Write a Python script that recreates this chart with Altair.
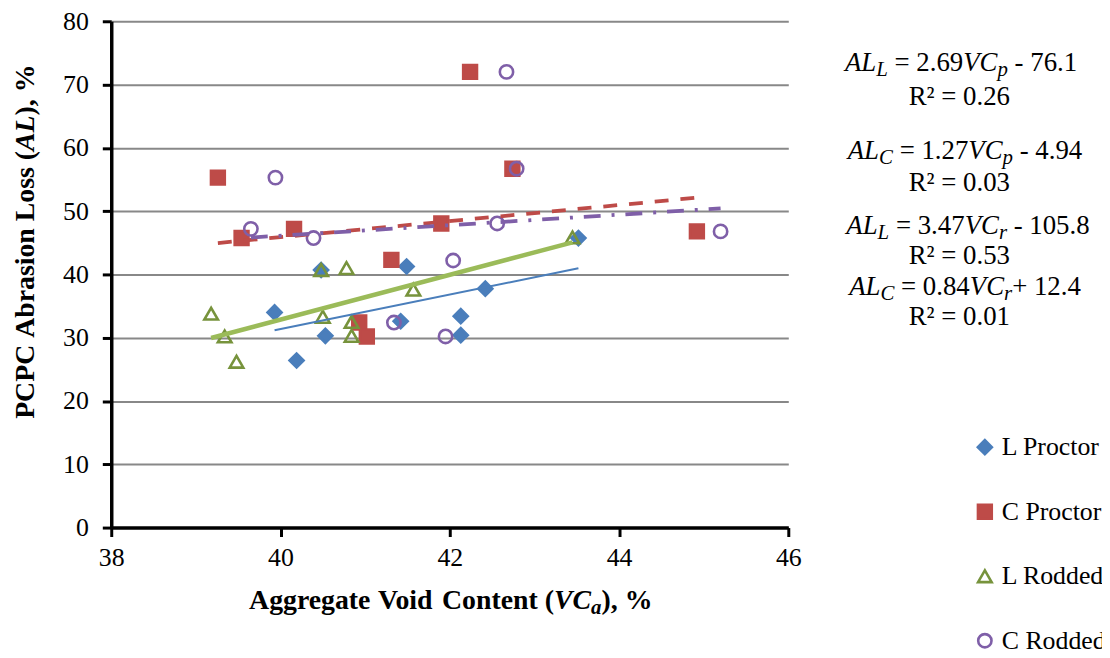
import altair as alt
import pandas as pd

# ---------------- data ----------------
series_names = ["L Proctor", "C Proctor", "L Rodded", "C Rodded"]

lp_x = [39.93, 40.19, 40.53, 40.48, 41.49, 41.42, 42.13, 42.13, 42.42, 43.52]
lp_y = [34.0, 26.4, 30.3, 40.7, 41.25, 32.6, 33.4, 30.4, 37.75, 45.75]

cp_x = [39.26, 39.54, 40.16, 41.31, 41.90, 40.93, 41.02, 42.24, 42.74, 44.92]
cp_y = [55.3, 45.75, 47.2, 42.3, 48.05, 32.4, 30.2, 72.0, 56.7, 46.8]

lr_x = [39.18, 39.34, 39.48, 40.48, 40.78, 40.50, 40.84, 40.84, 41.57, 43.45]
lr_y = [33.8, 30.2, 26.2, 40.7, 41.0, 33.3, 32.5, 30.3, 37.6, 45.85]

cr_x = [39.94, 39.65, 40.39, 41.34, 41.95, 42.04, 42.56, 42.67, 42.79, 45.20]
cr_y = [55.3, 47.2, 45.75, 32.4, 30.2, 42.2, 48.05, 72.0, 56.7, 46.8]

x_ticks = [38, 40, 42, 44, 46]
y_ticks = [0, 10, 20, 30, 40, 50, 60, 70, 80]

# rich-text pieces: (text, style); n normal, i italic, s italic subscript,
# b bold, bi bold italic, bs bold italic subscript
eq_lines = [
    [("AL", "i"), ("L", "s"), (" = 2.69", "n"), ("VC", "i"), ("p", "s"), (" - 76.1", "n")],
    [("AL", "i"), ("C", "s"), (" = 1.27", "n"), ("VC", "i"), ("p", "s"), (" - 4.94", "n")],
    [("AL", "i"), ("L", "s"), (" = 3.47", "n"), ("VC", "i"), ("r", "s"), (" - 105.8", "n")],
    [("AL", "i"), ("C", "s"), (" = 0.84", "n"), ("VC", "i"), ("r", "s"), ("+ 12.4", "n")],
]
r2_lines = ["R² = 0.26", "R² = 0.03", "R² = 0.53", "R² = 0.01"]
x_title = [("Aggregate Void Content (", "b"), ("VC", "bi"), ("a", "bs"), ("), %", "b")]
y_title = [("PCPC Abrasion Loss (", "b"), ("AL", "bi"), ("), %", "b")]

# ---------------- layout / style ----------------
FONT = "Liberation Serif"
BLUE, RED, GREEN_M, GREEN_L, PURPLE = "#4a7ebb", "#be4b48", "#77933c", "#9bbb59", "#7f5fa8"
PLOT_L, PLOT_T = 112, 19
W, H = 682, 510
FS, FS_SUB, SUB_SHIFT = 27, 21, 5
TFS, TFS_SUB = 28, 21
eq_base = [69, 158, 233, 295]
r2_base = [103, 190, 263, 325]
eq_center = [968, 972, 975, 972]
r2_center = 969
NBSP = "\u00a0"

STYLE = {  # style -> (bold, italic, size, baseline shift)
    "n": (False, False, FS, 0), "i": (False, True, FS, 0), "s": (False, True, FS_SUB, SUB_SHIFT),
    "b": (True, False, TFS, 0), "bi": (True, True, TFS, 0), "bs": (True, True, TFS_SUB, 5),
}
# Times-compatible advance widths (per 1000 em)
WID = {
    (False, False): {" ": 250, NBSP: 250, "=": 564, ".": 250, "-": 333, "+": 564, "R": 667, "²": 300},
    (False, True): {"A": 611, "L": 556, "V": 611, "C": 667, "p": 500, "r": 389},
    (True, False): {"A": 722, "g": 500, "r": 444, "e": 444, "a": 500, "t": 333, " ": 250,
                    "V": 722, "o": 500, "i": 278, "d": 556, "C": 722, "n": 556, "(": 333,
                    ")": 333, ",": 250, "%": 1000, "P": 611, "b": 556, "s": 389, "L": 667},
    (True, True): {"V": 667, "C": 667, "a": 500, "A": 667, "L": 611},
}


def adv(ch, bold, italic, size):
    w = 500 if ch.isdigit() else WID[(bold, italic)].get(ch, 500)
    return w * size / 1000.0


def layout(pieces):
    """Split pieces into words (spaces become gaps); return list of (word, style, offset) and total."""
    out, pos = [], 0.0
    for txt, st in pieces:
        bold, italic, size, _ = STYLE[st]
        word, start = "", pos
        for ch in txt:
            if ch == " ":
                if word:
                    out.append((word, st, start))
                word = ""
                pos += adv(ch, bold, italic, size)
                start = pos
            else:
                word += ch
                pos += adv(ch, bold, italic, size)
        if word:
            out.append((word, st, start))
    return out, pos


groups = {}  # (style, rotated) -> rows


def place(pieces, center, base, rotated=False):
    words, total = layout(pieces)
    for word, st, off in words:
        shift = STYLE[st][3]
        if rotated:
            row = {"px": base + shift - PLOT_L, "py": center + total / 2 - off - PLOT_T, "txt": word}
        else:
            row = {"px": center - total / 2 + off - PLOT_L, "py": base + shift - PLOT_T, "txt": word}
        groups.setdefault((st, rotated), []).append(row)


for line, base, cx in zip(eq_lines, eq_base, eq_center):
    place(line, cx, base)
for txt, base in zip(r2_lines, r2_base):
    place([(txt.replace(" ", NBSP), "n")], r2_center, base)
place(x_title, 454, 611)
place(y_title, 241, 34, rotated=True)

rows = []
for name, xs_, ys_ in zip(series_names, [lp_x, cp_x, lr_x, cr_x], [lp_y, cp_y, lr_y, cr_y]):
    for a, b in zip(xs_, ys_):
        rows.append({"series": name, "vc": a, "al": b})
df = pd.DataFrame(rows)

xsc = alt.Scale(domain=[38, 46], nice=False, zero=False)
ysc = alt.Scale(domain=[0, 80], nice=False)

axis_common = dict(
    labelFont=FONT, labelFontSize=26, labelColor="black", labelFlush=False, title=None,
    domainColor="black", domainWidth=3.5, tickColor="black", tickWidth=3, tickSize=9,
)
x_enc = alt.X("vc:Q", scale=xsc, axis=alt.Axis(
    values=x_ticks, format="d", grid=False, labelPadding=8, **axis_common))
y_enc = alt.Y("al:Q", scale=ysc, axis=alt.Axis(
    values=y_ticks, format="d", grid=True, gridColor="#888888", gridWidth=2,
    labelPadding=14, **axis_common))

leg = alt.Legend(title=None, orient="none", legendX=867, legendY=416,
                 labelFont=FONT, labelFontSize=26, labelColor="black",
                 rowPadding=39, labelOffset=4, padding=0, symbolStrokeWidth=2.6)

points = alt.Chart(df).mark_point(opacity=1, strokeWidth=2.6).encode(
    x=x_enc, y=y_enc,
    shape=alt.Shape("series:N", scale=alt.Scale(domain=series_names,
                    range=["diamond", "square", "triangle-up", "circle"]), legend=leg),
    fill=alt.Fill("series:N", scale=alt.Scale(domain=series_names,
                  range=[BLUE, RED, "transparent", "transparent"]), legend=leg),
    stroke=alt.Stroke("series:N", scale=alt.Scale(domain=series_names,
                      range=[BLUE, RED, GREEN_M, PURPLE]), legend=leg),
    size=alt.Size("series:N", scale=alt.Scale(domain=series_names,
                  range=[200, 180, 560, 190]), legend=leg),
)


def trend(name, color, width, dash=None):
    props = dict(color=color, strokeWidth=width)
    if dash:
        props["strokeDash"] = dash
    return (alt.Chart(df).transform_filter(alt.datum.series == name)
            .transform_regression("vc", "al")
            .mark_line(**props).encode(x=x_enc, y=y_enc))


t_lp = trend("L Proctor", BLUE, 2)
t_cp = trend("C Proctor", RED, 3.8, [14, 12])
t_lr = trend("L Rodded", GREEN_L, 4.5)
t_cr = trend("C Rodded", PURPLE, 3.8, [17, 11, 3, 11])

text_layers = []
for (st, rotated), rws in groups.items():
    bold, italic, size, _ = STYLE[st]
    props = dict(font=FONT, align="left", baseline="alphabetic", color="black", fontSize=size)
    if italic:
        props["fontStyle"] = "italic"
    if bold:
        props["fontWeight"] = "bold"
    if rotated:
        props["angle"] = 270
    text_layers.append(alt.Chart(pd.DataFrame(rws)).mark_text(**props).encode(
        x=alt.X("px:Q", scale=None, axis=None), y=alt.Y("py:Q", scale=None, axis=None),
        text="txt:N"))

chart = alt.layer(points, t_lp, t_cp, t_lr, t_cr, *text_layers).properties(
    width=W, height=H,
    autosize=alt.AutoSizeParams(type="none"),
    padding={"left": PLOT_L - 8, "top": PLOT_T - 8, "right": 316, "bottom": 128},
    background="white",
).configure(font=FONT).configure_view(stroke=None).configure_axis(labelFont=FONT)

chart.save("out.html", embed_options={"renderer": "svg", "actions": False})
